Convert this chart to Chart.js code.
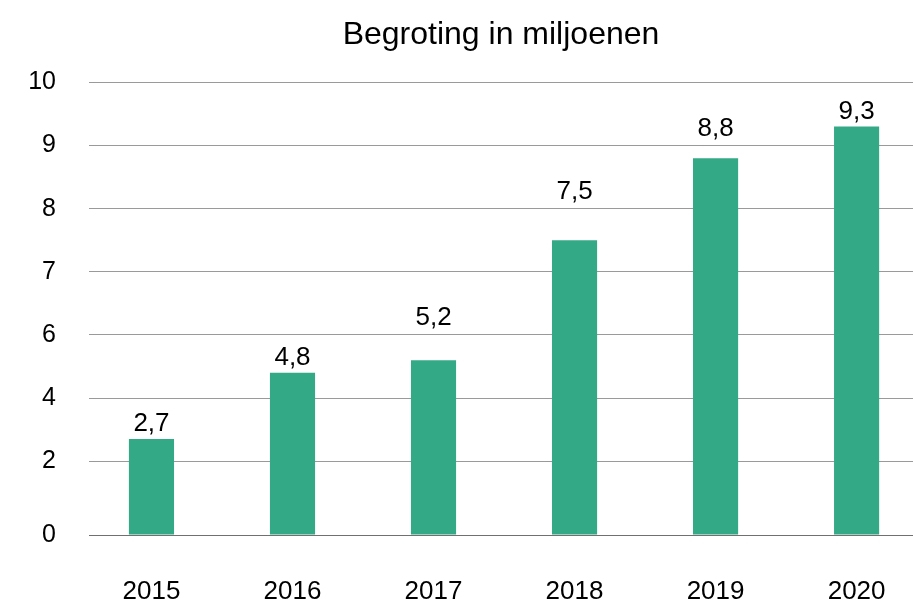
<!DOCTYPE html>
<html>
<head>
<meta charset="utf-8">
<script src="https://cdn.jsdelivr.net/npm/chart.js@4"></script>
<style>
  html, body { margin: 0; padding: 0; background: #fff; overflow: hidden; }
  #wrap { width: 913px; height: 606px; position: relative; }
</style>
</head>
<body>
<div id="wrap"><canvas id="chart"></canvas></div>
<script>
'use strict';

// --- data ---------------------------------------------------
const years  = ['2015', '2016', '2017', '2018', '2019', '2020'];
const budget = [2.7, 4.8, 5.2, 7.5, 8.8, 9.3];

// y axis is not linear: these labels sit on evenly spaced gridlines
const yTickValues = [0, 2, 4, 6, 7, 8, 9, 10];
const yTickSlots  = [0, 1.17, 2.17, 3.17, 4.17, 5.17, 6.17, 7.17];

const BAR_COLOR = '#34a985';
const FONT      = "Helvetica, 'Liberation Sans', Arial, sans-serif";

// map a real value onto the piecewise axis
function toSlot(v) {
  for (let i = 1; i < yTickValues.length; i++) {
    if (v <= yTickValues[i]) {
      const a = yTickValues[i - 1], b = yTickValues[i];
      const t = (v - a) / (b - a);
      return yTickSlots[i - 1] + t * (yTickSlots[i] - yTickSlots[i - 1]);
    }
  }
  return yTickSlots[yTickSlots.length - 1];
}

const fmt = v => v.toFixed(1).replace('.', ',');

// value labels above bars, nudged up so they do not sit on a gridline
const barLabels = {
  id: 'barLabels',
  afterDatasetsDraw(chart) {
    const ctx  = chart.ctx;
    const yAx  = chart.scales.y;
    const meta = chart.getDatasetMeta(0);
    ctx.save();
    ctx.font = '26px ' + FONT;
    ctx.fillStyle = '#000';
    ctx.textAlign = 'center';
    ctx.textBaseline = 'alphabetic';
    meta.data.forEach((bar, i) => {
      let base = bar.y - 8;
      yAx.ticks.forEach(t => {
        const py = yAx.getPixelForValue(t.value);
        if (py > base - 28 && py < base + 3) base = py - 10;
      });
      ctx.fillText(fmt(budget[i]), bar.x, base);
    });
    ctx.restore();
  },
};

new Chart(document.getElementById('chart'), {
  type: 'bar',
  data: {
    datasets: [{
      data: budget.map((v, i) => ({ x: i, y: toSlot(v) })),
      backgroundColor: BAR_COLOR,
      borderWidth: 0,
      barPercentage: 0.32,
      categoryPercentage: 1,
    }],
  },
  options: {
    responsive: true,
    maintainAspectRatio: false,
    animation: false,
    layout: { padding: 0 },
    plugins: {
      legend:  { display: false },
      tooltip: { enabled: false },
      title: {
        display: true,
        text: 'Begroting in miljoenen',
        fullSize: false,
        color: '#000',
        font: { family: FONT, size: 32, weight: 'normal' },
        padding: { top: 16, bottom: 28 },
      },
    },
    scales: {
      x: {
        type: 'linear',
        offset: false,
        min: -0.443,
        max: 5.4,
        grid:   { display: false, drawTicks: false, offset: false },
        border: { display: false },
        afterBuildTicks: s => { s.ticks = years.map((_, i) => ({ value: i })); },
        afterFit: s => { s.height = 71; s.paddingLeft = 0; s.paddingRight = 0; },
        ticks: {
          callback: v => years[v],
          color: '#000',
          font: { family: FONT, size: 26 },
          padding: 41,
          maxRotation: 0,
          autoSkip: false,
        },
      },
      y: {
        type: 'linear',
        min: 0,
        max: yTickSlots[yTickSlots.length - 1],
        grid: {
          drawTicks: false,
          color: c => (c.tick && c.tick.value === 0 ? '#707070' : '#9a9a9a'),
          lineWidth: 1,
        },
        border: { display: false },
        afterBuildTicks: s => { s.ticks = yTickSlots.map(v => ({ value: v })); },
        afterFit: s => { s.width = 89; },
        ticks: {
          callback: (v, i) => yTickValues[i],
          color: '#000',
          font: { family: FONT, size: 25 },
          padding: 33,
          autoSkip: false,
        },
      },
    },
  },
  plugins: [barLabels],
});
</script>
</body>
</html>
